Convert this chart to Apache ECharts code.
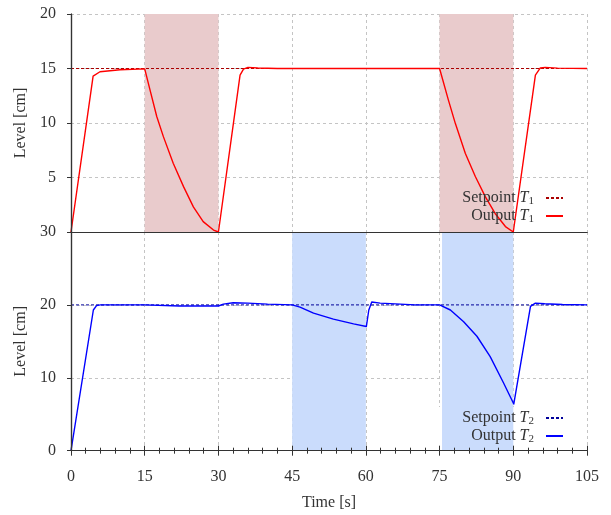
<!DOCTYPE html>
<html><head><meta charset="utf-8">
<script src="https://cdn.jsdelivr.net/npm/echarts@6/dist/echarts.min.js"></script>
<style>html,body{margin:0;padding:0;background:#fff}#c{width:611px;height:515px}</style>
</head><body><div id="c"></div><script>
// ---- data ----
const setpoint1 = [[0,15],[105,15]];
const output1 = [[0,0],[4.5,14.3],[5.9,14.7],[10,14.88],[15,14.97],[16.1,13.0],[17.45,10.6],[18.8,8.75],[20.8,6.3],[22.9,4.16],[24.9,2.3],[26.9,0.95],[29.0,0.18],[30,0],[34.4,14.4],[35.1,14.95],[36,15.1],[38,15.05],[42,15],[75,15],[76.8,12.1],[78.2,9.97],[80.25,7.2],[82.3,5.07],[84.3,3.24],[86.3,1.7],[88.4,0.5],[90,0],[94.5,14.4],[95.5,15.05],[96.5,15.1],[99,15.03],[105,15]];
const setpoint2 = [[0,20],[105,20]];
const output2 = [[0,0],[4.55,19.3],[5.2,19.9],[6,20],[15,20],[22,19.85],[30,19.85],[31,20.1],[33,20.3],[36,20.25],[40,20.1],[45,20],[46.6,19.7],[49.35,18.87],[53.4,18.05],[57.5,17.4],[60.1,17.03],[60.6,19.3],[61.2,20.4],[62.9,20.25],[67,20.1],[70,20],[75,20],[77.2,19.3],[79.9,17.7],[82.6,15.7],[85.3,12.9],[88.05,9.26],[90.1,6.4],[93.5,19.8],[94.5,20.25],[96.4,20.15],[100,20.05],[105,20]];
const redIntervals = [[15,30],[75,90]];
const blueIntervals = [[45,60],[75.5,90]];
const xRange = [0,105,15];
const y1Range = [0,20,5];
const y2Range = [0,30,10];

// ---- styles ----
const FONT = 'Liberation Serif';
const TXT = '#333';
const AX = '#333';
const gridLine = {show:true, lineStyle:{color:'#c4c4c4', type:[3,3], width:1}};

function splitAxis(g, r){
  return {gridIndex:g, type:'value', min:r[0], max:r[1], interval:r[2], z:0,
    axisLine:{show:false}, axisTick:{show:false}, axisLabel:{show:false}, splitLine:gridLine};
}
function lineAxis(g, r, pos, extra){
  return Object.assign({gridIndex:g, type:'value', min:r[0], max:r[1], interval:r[2], z:5, position:pos,
    axisLine:{show:true, lineStyle:{color:AX, width:1.2}}, axisTick:{show:false}, axisLabel:{show:false}, splitLine:{show:false}}, extra||{});
}
const labelStyle = {fontFamily:FONT, fontSize:16, color:TXT};

const xAxis = [
  splitAxis(0, xRange),
  lineAxis(0, xRange, 'bottom'),
  lineAxis(0, xRange, 'top'),
  splitAxis(1, xRange),
  lineAxis(1, xRange, 'bottom', {
    axisTick:{show:true, inside:true, length:5, lineStyle:{color:AX}},
    minorTick:{show:true, splitNumber:5, length:3, lineStyle:{color:AX}},
    axisLabel:Object.assign({show:true, margin:18}, labelStyle),
    name:'Time [s]', nameLocation:'middle', nameGap:44, nameTextStyle:labelStyle
  }),
  lineAxis(1, xRange, 'top', {
    axisTick:{show:true, inside:true, length:5, lineStyle:{color:AX}},
    minorTick:{show:true, splitNumber:5, length:3, lineStyle:{color:AX}}
  })
];
const yAxis = [
  splitAxis(0, y1Range),
  lineAxis(0, y1Range, 'left', {
    axisTick:{show:true, inside:false, length:4, lineStyle:{color:AX}},
    axisLabel:Object.assign({show:true, margin:15, formatter:v => v===0 ? '' : String(v)}, labelStyle),
    name:'Level [cm]', nameLocation:'middle', nameGap:42, nameTextStyle:labelStyle
  }),
  lineAxis(0, y1Range, 'right'),
  splitAxis(1, y2Range),
  lineAxis(1, y2Range, 'left', {
    axisTick:{show:true, inside:false, length:4, lineStyle:{color:AX}},
    axisLabel:Object.assign({show:true, margin:15}, labelStyle),
    name:'Level [cm]', nameLocation:'middle', nameGap:42, nameTextStyle:labelStyle
  }),
  lineAxis(1, y2Range, 'right')
];

function shade(g, intervals, color){
  return {type:'line', xAxisIndex:g*3+1, yAxisIndex:g*3+1, data:[], z:2, silent:true,
    markArea:{silent:true, itemStyle:{color:color, opacity:1}, label:{show:false},
      data:intervals.map(iv => [{xAxis:iv[0]},{xAxis:iv[1]}])}};
}
function curve(g, name, data, color, dashed, width){
  return {type:'line', name:name, xAxisIndex:g*3+1, yAxisIndex:g*3+1, data:data, z:3,
    symbol:'none', smooth:false, silent:true,
    lineStyle:{color:color, width:width, type:dashed?[3,2]:'solid', join:'round'}, itemStyle:{color:color}};
}

const rich = {
  n:{fontFamily:FONT, fontSize:16, color:TXT, lineHeight:18},
  t:{fontFamily:FONT, fontSize:16, fontStyle:'italic', color:TXT, lineHeight:18},
  s:{fontFamily:FONT, fontSize:11, color:TXT, lineHeight:12, verticalAlign:'bottom'},
  g:{width:7, lineHeight:18}
};
function legendCfg(names, top){
  return {data:names, orient:'vertical', align:'right', right:47, top:top+2, padding:0,
    itemWidth:17, itemHeight:10, itemGap:1, selectedMode:false,
    itemStyle:{opacity:0},
    textStyle:{fontFamily:FONT, fontSize:16, color:TXT, rich:rich},
    formatter: name => { const p = name.split(' T'); return '{n|' + p[0] + ' }{t|T}{s|' + p[1] + '}{g| }'; }};
}

const option = {
  animation:false,
  backgroundColor:'#fff',
  grid:[{left:71, right:24, top:14, height:218}, {left:71, right:24, top:232, height:218.7}],
  xAxis:xAxis, yAxis:yAxis,
  legend:[legendCfg(['Setpoint T1','Output T1'], 188), legendCfg(['Setpoint T2','Output T2'], 408)],
  series:[
    shade(0, redIntervals, '#e9cbcc'),
    {type:'line', xAxisIndex:4, yAxisIndex:4, data:[], z:1, silent:true,
      markArea:{silent:true, itemStyle:{color:'#ffffff', opacity:1}, data:[[{xAxis:73.5, yAxis:0},{xAxis:105, yAxis:6}]]}},
    shade(1, blueIntervals, '#cadcfc'),
    curve(0, 'Setpoint T1', setpoint1, '#aa0000', true, 1),
    curve(0, 'Output T1', output1, '#ff0000', false, 1.4),
    curve(1, 'Setpoint T2', setpoint2, '#00009a', true, 1),
    curve(1, 'Output T2', output2, '#0000ff', false, 1.4)
  ]
};
const chart = echarts.init(document.getElementById('c'), null, {renderer:'canvas'});
chart.setOption(option);
</script></body></html>
